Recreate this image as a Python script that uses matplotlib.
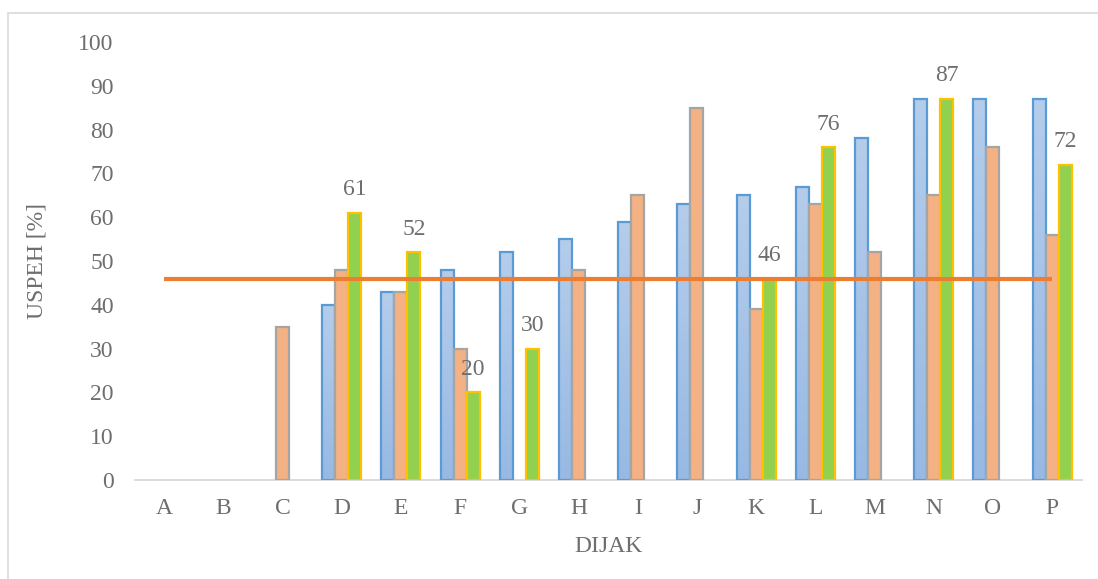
import numpy as np
import matplotlib.pyplot as plt
from matplotlib.patches import Rectangle
from matplotlib.colors import LinearSegmentedColormap

categories = ["A", "B", "C", "D", "E", "F", "G", "H", "I", "J", "K", "L", "M", "N", "O", "P"]
series_blue = [0, 0, 0, 40, 43, 48, 52, 55, 59, 63, 65, 67, 78, 87, 87, 87]
series_orange = [0, 0, 35, 48, 43, 30, 0, 48, 65, 85, 39, 63, 52, 65, 76, 56]
series_green = [0, 0, 0, 61, 52, 20, 30, 0, 0, 0, 46, 76, 0, 87, 0, 72]
average = 46
y_ticks = [0, 10, 20, 30, 40, 50, 60, 70, 80, 90, 100]

W, H = 1098, 579
fig = plt.figure(figsize=(W / 100, H / 100), dpi=100)
fig.patch.set_facecolor("white")

# outer chart frame
fig.patches.append(Rectangle((8 / W, -0.01), 1.2, (H - 13) / H + 0.01,
                             transform=fig.transFigure, fill=False,
                             edgecolor="#D9D9D9", linewidth=1.2))

ax = fig.add_axes([134.5 / W, 99 / H, (1081.7 - 134.5) / W, 438 / H])
text_color = "#6E6E6E"
font = "Liberation Serif"
fs = 17

x = np.arange(len(categories))
bw = 0.22

# blue series with a soft vertical gradient
grad = np.linspace(0, 1, 256).reshape(-1, 1)
blue_cmap = LinearSegmentedColormap.from_list("bl", ["#97B9E3", "#B5CDEB"])
for xi, v in zip(x, series_blue):
    if v <= 0:
        continue
    x0 = xi - 1.5 * bw
    ax.add_patch(Rectangle((x0, 0), bw, v, facecolor="none", edgecolor="#5B9BD5",
                           linewidth=1.6, zorder=3))
    im = ax.imshow(grad, extent=(x0, x0 + bw, 0, v), origin="lower",
                   cmap=blue_cmap, aspect="auto", zorder=2)
    im.set_clip_path(Rectangle((x0, 0), bw, v, transform=ax.transData))

for xi, v in zip(x, series_orange):
    if v > 0:
        ax.bar(xi, v, bw, color="#F4B183", edgecolor="#A5A5A5", linewidth=1.6, zorder=3)

for xi, v in zip(x, series_green):
    if v > 0:
        ax.bar(xi + bw, v, bw, color="#92D050", edgecolor="#FFC000", linewidth=1.6, zorder=3)
        ax.annotate(str(v), (xi + bw, v), xytext=(0, 9), textcoords="offset points",
                    ha="center", va="bottom", fontsize=fs, family=font,
                    color=text_color, zorder=5)

ax.plot([x[0], x[-1]], [average, average], color="#ED7D31", linewidth=3, zorder=4,
        solid_capstyle="butt")

ax.set_xlim(-0.5, len(categories) - 0.5)
ax.set_ylim(0, 100)
ax.set_yticks(y_ticks)
ax.set_xticks(x)
ax.set_xticklabels(categories)
for lbl in ax.get_xticklabels() + ax.get_yticklabels():
    lbl.set_fontfamily(font)
    lbl.set_fontsize(fs)
    lbl.set_color(text_color)
ax.tick_params(axis="both", length=0)
ax.tick_params(axis="y", pad=15)
ax.tick_params(axis="x", pad=13)

for side in ["top", "right", "left"]:
    ax.spines[side].set_visible(False)
ax.spines["bottom"].set_color("#D9D9D9")
ax.spines["bottom"].set_linewidth(1.3)

ax.set_xlabel("DIJAK", fontsize=fs, family=font, color=text_color, labelpad=12)
ax.set_ylabel("USPEH [%]", fontsize=fs, family=font, color=text_color, labelpad=22)

fig.savefig("out.png", dpi=100)
